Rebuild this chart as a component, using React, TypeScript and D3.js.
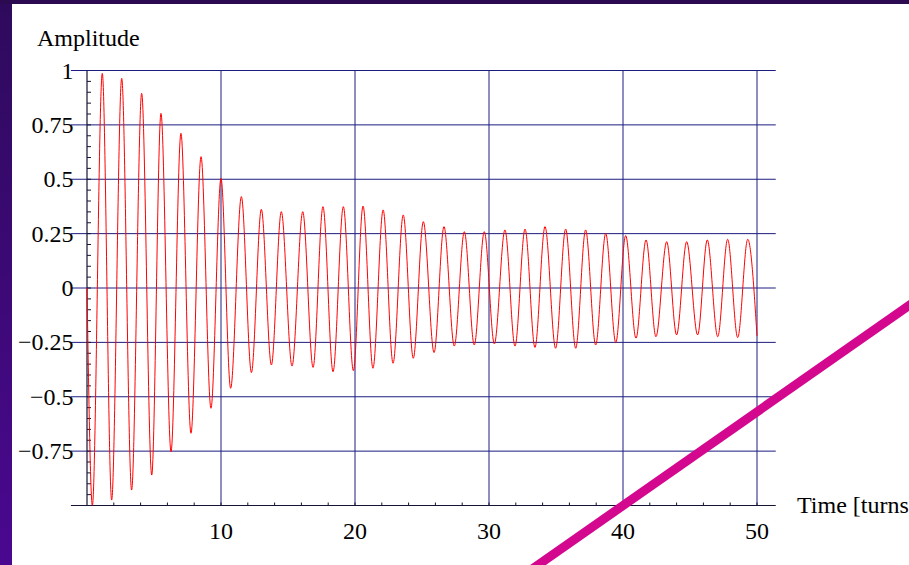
import React from "react";
import * as d3 from "d3";

const times = [0, 0.4, 1.14, 1.84, 2.59, 3.33, 4.08, 4.83, 5.52, 6.27, 7.01, 7.76, 8.51, 9.25, 10.0, 10.72, 11.52, 12.27, 13.01, 13.76, 14.5, 15.3, 16.1, 16.87, 17.61, 18.36, 19.13, 19.88, 20.6, 21.34, 22.1, 22.84, 23.6, 24.35, 25.1, 25.9, 26.64, 27.41, 28.16, 28.9, 29.65, 30.4, 31.19, 31.94, 32.69, 33.43, 34.18, 34.97, 35.72, 36.47, 37.21, 37.96, 38.71, 39.46, 40.2, 40.97, 41.72, 42.46, 43.26, 44.0, 44.75, 45.57, 46.29, 47.07, 47.81, 48.56, 49.31, 50.0];
const amplitude = [0, -1.0, 0.987, -0.975, 0.964, -0.929, 0.895, -0.86, 0.803, -0.753, 0.711, -0.668, 0.604, -0.553, 0.504, -0.461, 0.42, -0.389, 0.362, -0.354, 0.351, -0.359, 0.351, -0.365, 0.374, -0.385, 0.374, -0.38, 0.377, -0.369, 0.359, -0.346, 0.336, -0.323, 0.305, -0.297, 0.282, -0.267, 0.259, -0.262, 0.259, -0.257, 0.267, -0.267, 0.271, -0.273, 0.282, -0.277, 0.271, -0.277, 0.267, -0.262, 0.251, -0.251, 0.241, -0.231, 0.221, -0.224, 0.213, -0.216, 0.213, -0.216, 0.221, -0.224, 0.224, -0.228, 0.224, -0.22];

const xTicks = [10, 20, 30, 40, 50];
const yTicks = [1, 0.75, 0.5, 0.25, 0, -0.25, -0.5, -0.75];
const yTickLabels = ["1", "0.75", "0.5", "0.25", "0", "\u22120.25", "\u22120.5", "\u22120.75"];
const xMinorTicks = d3.range(2, 51, 2);
const yMinorTicks = d3.range(-19, 20).map((i) => i * 0.05);
const xPlotRange = [-1.2, 51.4];
const yPlotRange = [-1, 1];
// decorative pen stroke, given in data coordinates
const annotation = [
  [32, -1.345],
  [63, -0.009],
];

const W = 909;
const H = 565;

export default function App() {
  const x = d3.scaleLinear().domain([0, 50]).range([87, 757]);
  const y = d3.scaleLinear().domain([-1, 1]).range([505.5, 70.5]);
  const pts = times.map((t, i) => [t, amplitude[i]] as [number, number]);
  const line = d3
    .line<[number, number]>()
    .x((d) => x(d[0]))
    .y((d) => y(d[1]))
    .curve(d3.curveMonotoneX);
  const serif = "'Liberation Serif', 'Times New Roman', serif";
  const grid = "#1c1c80";
  const axisC = "#141433";
  const x0 = x(xPlotRange[0]);
  const x1 = x(xPlotRange[1]);
  return (
    <svg
      width={W}
      height={H}
      style={{ position: "absolute", left: 0, top: 0, display: "block" }}
    >
      <defs>
        <linearGradient id="side" x1="0" y1="0" x2="0" y2="1">
          <stop offset="0" stopColor="#2e0a5c" />
          <stop offset="1" stopColor="#4a0890" />
        </linearGradient>
        <clipPath id="plotClip">
          <rect x={x0} y={y(1)} width={x1 - x0} height={y(-1) - y(1)} />
        </clipPath>
      </defs>
      <rect x={0} y={0} width={W} height={H} fill="url(#side)" />
      <rect x={0} y={0} width={W} height={4} fill="#2c0a52" />
      <rect x={12} y={4} width={W - 12} height={H - 4} fill="#ffffff" />

      {/* grid */}
      {yTicks.map((v) => (
        <line key={"gy" + v} x1={x0} x2={x1} y1={y(v)} y2={y(v)} stroke={grid} strokeWidth={1} />
      ))}
      {xTicks.map((t) => (
        <line key={"gx" + t} x1={x(t)} x2={x(t)} y1={y(yPlotRange[0])} y2={y(yPlotRange[1])} stroke={grid} strokeWidth={1} />
      ))}

      {/* axes */}
      <line x1={x0} x2={x1} y1={y(-1)} y2={y(-1)} stroke={axisC} strokeWidth={1.2} />
      <line x1={x(0)} x2={x(0)} y1={y(-1)} y2={y(1)} stroke={axisC} strokeWidth={1.2} />
      {xMinorTicks.map((t) => (
        <line key={"mx" + t} x1={x(t)} x2={x(t)} y1={y(-1)} y2={y(-1) - 3} stroke={axisC} strokeWidth={1} />
      ))}
      {yMinorTicks.map((v) => (
        <line key={"my" + v} x1={x(0)} x2={x(0) + 4} y1={y(v)} y2={y(v)} stroke={axisC} strokeWidth={1} />
      ))}

      {/* data */}
      <path d={line(pts) || ""} fill="none" stroke="#ff0000" strokeWidth={1} clipPath="url(#plotClip)" />

      {/* labels */}
      {yTicks.map((v, i) => (
        <text key={"ly" + v} x={73.5} y={y(v) + 8} textAnchor="end" fontFamily={serif} fontSize={24} fill="#000">
          {yTickLabels[i]}
        </text>
      ))}
      {xTicks.map((t) => (
        <text key={"lx" + t} x={x(t)} y={539} textAnchor="middle" fontFamily={serif} fontSize={24} fill="#000">
          {t}
        </text>
      ))}
      <text x={37} y={46} fontFamily={serif} fontSize={24} fill="#000">Amplitude</text>
      <text x={797} y={513} fontFamily={serif} fontSize={24} fill="#000">Time [turns]</text>

      {/* pen stroke annotation */}
      <line
        x1={x(annotation[0][0])}
        y1={y(annotation[0][1])}
        x2={x(annotation[1][0])}
        y2={y(annotation[1][1])}
        stroke="#d4078f"
        strokeWidth={9}
      />
    </svg>
  );
}
